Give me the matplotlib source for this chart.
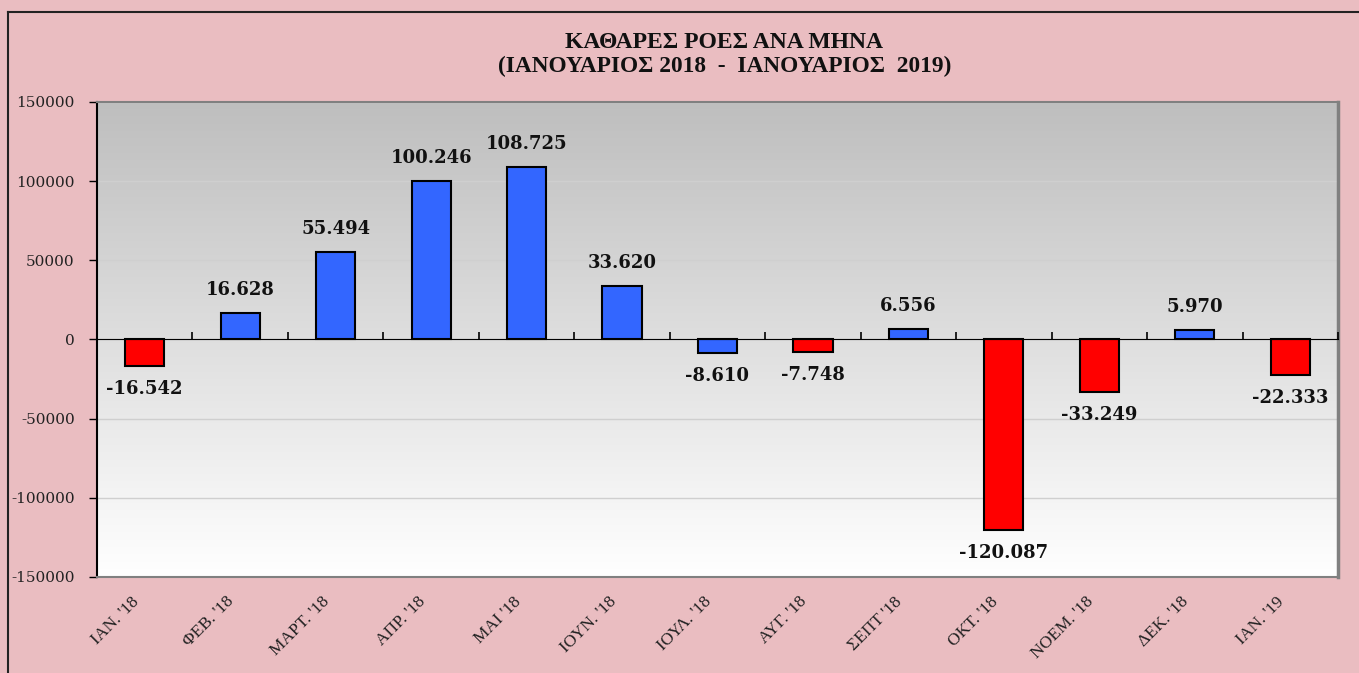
import matplotlib.pyplot as plt
import matplotlib.transforms as mtransforms
import numpy as np
from matplotlib.colors import LinearSegmentedColormap
from matplotlib.lines import Line2D

months = ["ΙΑΝ. '18", "ΦΕΒ. '18", "ΜΑΡΤ. '18", "ΑΠΡ. '18", "ΜΑΙ '18", "ΙΟΥΝ. '18",
          "ΙΟΥΛ. '18", "ΑΥΓ. '18", "ΣΕΠΤ '18", "ΟΚΤ. '18", "ΝΟΕΜ. '18", "ΔΕΚ. '18",
          "ΙΑΝ. '19"]
values = [-16542, 16628, 55494, 100246, 108725, 33620,
          -8610, -7748, 6556, -120087, -33249, 5970, -22333]
is_red = [True, False, False, False, False, False,
          False, True, False, True, True, False, True]
yticks = [-150000, -100000, -50000, 0, 50000, 100000, 150000]

fig = plt.figure(figsize=(13.59, 6.73), dpi=100)
fig.patch.set_facecolor("#eabdc1")
# frame lines at left and top of the picture
fig.lines.append(Line2D([8 / 1359, 8 / 1359], [0, 1 - 12 / 673], transform=fig.transFigure,
                        color="#222222", linewidth=1.5))
fig.lines.append(Line2D([8 / 1359, 1], [1 - 12 / 673, 1 - 12 / 673], transform=fig.transFigure,
                        color="#222222", linewidth=1.5))

ax = fig.add_axes([97 / 1359, 1 - 577 / 673, (1338 - 97) / 1359, (577 - 102) / 673])

# grey-to-white gradient background
grad = np.linspace(0, 1, 256).reshape(-1, 1)
ax.imshow(grad, extent=[0, 1, 0, 1], transform=ax.transAxes, aspect="auto",
          cmap=LinearSegmentedColormap.from_list("g", ["#ffffff", "#bebebe"]),
          origin="lower", zorder=0)

x = np.arange(len(months))
colors = ["#ff0000" if r else "#3366ff" for r in is_red]
ax.bar(x, values, width=0.41, color=colors, edgecolor="black", linewidth=1.5, zorder=3)

for xi, v in zip(x, values):
    label = f"{v:,}".replace(",", ".")
    ax.annotate(label, (xi, v), xytext=(0, 10 if v > 0 else -10),
                textcoords="offset points", ha="center",
                va="bottom" if v > 0 else "top",
                fontsize=13, fontweight="bold", family="DejaVu Serif",
                color="#111111", zorder=4)

ax.set_xlim(-0.5, len(months) - 0.5)
ax.set_ylim(-150000, 150000)
ax.set_yticks(yticks)
ax.set_yticklabels([str(t) for t in yticks], family="DejaVu Serif", fontsize=11,
                   color="#222222")
ax.yaxis.grid(True, color="#cfcfcf", linewidth=1, zorder=1)
ax.set_axisbelow(True)
ax.tick_params(axis="y", length=6, width=1, pad=10)

ax.set_xticks(x)
ax.set_xticklabels(months, rotation=45, ha="right", va="top",
                   rotation_mode="anchor", family="Liberation Serif",
                   fontsize=12.5, color="#222222")
ax.tick_params(axis="x", length=0, pad=12)
shift = mtransforms.ScaledTranslation(-0.14, 0, fig.dpi_scale_trans)
for lab in ax.get_xticklabels():
    lab.set_transform(lab.get_transform() + shift)

# zero line with category ticks
sec = ax.secondary_xaxis(0.5)
sec.set_xticks(np.arange(len(months) + 1) - 0.5)
sec.set_xticklabels([])
sec.tick_params(axis="x", direction="out", length=5, width=1.2, color="black")
sec.spines["bottom"].set_color("black")
sec.spines["bottom"].set_linewidth(1.2)
sec.set_zorder(5)

ax.spines["left"].set_color("black")
ax.spines["left"].set_linewidth(1.5)
for s in ["top", "bottom"]:
    ax.spines[s].set_color("#808080")
    ax.spines[s].set_linewidth(1.5)
ax.spines["right"].set_color("#808080")
ax.spines["right"].set_linewidth(2.5)

fig.text(0.533, 1 - 42 / 673, "ΚΑΘΑΡΕΣ ΡΟΕΣ ΑΝΑ ΜΗΝΑ", ha="center", va="center",
         family="Liberation Serif", fontweight="bold", fontsize=17, color="#111111")
fig.text(0.533, 1 - 66 / 673, "(ΙΑΝΟΥΑΡΙΟΣ 2018  -  ΙΑΝΟΥΑΡΙΟΣ  2019)", ha="center",
         va="center", family="Liberation Serif", fontweight="bold", fontsize=16.8,
         color="#111111")

fig.savefig("out.png", dpi=100, facecolor=fig.get_facecolor())
